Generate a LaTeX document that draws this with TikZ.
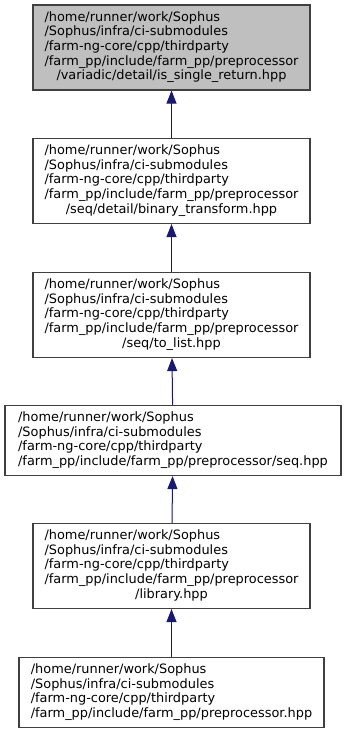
\documentclass[tikz,border=0pt]{standalone}
\usepackage{fontspec}
\usepackage{tikz}
\usetikzlibrary{arrows.meta,positioning}
\newfontfamily\dejavu{DejaVu Sans}
\definecolor{midnightblue}{HTML}{191970}
\definecolor{rootgrey}{HTML}{BFBFBF}
\definecolor{boxline}{HTML}{404040}
% path block: left-aligned lines, last line centred
\newcommand{\incpath}[2]{\begin{tabular}{@{}l@{}}#1\\\multicolumn{1}{@{}c@{}}{#2}\end{tabular}}
\newcommand{\fp}{/farm\_pp}

\begin{document}
\begin{tikzpicture}[x=1pt,y=-1pt,
    filebox/.style={draw=boxline, line width=1.1pt, fill=white, inner sep=0pt,
      minimum width=277pt, minimum height=85pt,
      font=\dejavu\fontsize{12.9}{14.7}\selectfont},
    rootbox/.style={filebox, fill=rootgrey},
    incl/.style={-{Triangle[length=13pt,width=10pt]}, draw=midnightblue, line width=1pt}]
    \useasboundingbox (0,0) rectangle (343,733);

    % included header at the top
    \node[rootbox] (single) at (171.5,47.5) {\incpath{/home/runner/work/Sophus\\/Sophus/infra/ci-submodules\\/farm-ng-core/cpp/thirdparty\\\fp/include\fp/preprocessor}{/variadic/detail/is\_single\_return.hpp}};

    % chain of includers
    \node[filebox] (binary) at (171.5,181) {\incpath{/home/runner/work/Sophus\\/Sophus/infra/ci-submodules\\/farm-ng-core/cpp/thirdparty\\\fp/include\fp/preprocessor}{/seq/detail/binary\_transform.hpp}};
    \node[filebox] (tolist) at (171.5,315) {\incpath{/home/runner/work/Sophus\\/Sophus/infra/ci-submodules\\/farm-ng-core/cpp/thirdparty\\\fp/include\fp/preprocessor}{/seq/to\_list.hpp}};
    \node[filebox, minimum width=336pt, minimum height=70pt] (seq) at (173,440.5) {\begin{tabular}{@{}l@{}}/home/runner/work/Sophus\\/Sophus/infra/ci-submodules\\/farm-ng-core/cpp/thirdparty\\\fp/include\fp/preprocessor/seq.hpp\end{tabular}};
    \node[filebox] (library) at (171.5,566) {\incpath{/home/runner/work/Sophus\\/Sophus/infra/ci-submodules\\/farm-ng-core/cpp/thirdparty\\\fp/include\fp/preprocessor}{/library.hpp}};
    \node[filebox, minimum width=305pt, minimum height=70pt] (prepro) at (171.5,692.5) {\begin{tabular}{@{}l@{}}/home/runner/work/Sophus\\/Sophus/infra/ci-submodules\\/farm-ng-core/cpp/thirdparty\\\fp/include\fp/preprocessor.hpp\end{tabular}};

    % include edges
    \draw[incl] (binary) -- (single);
    \draw[incl] (tolist) -- (binary);
    \draw[incl] (seq) -- (tolist);
    \draw[incl] (library) -- (seq);
    \draw[incl] (prepro) -- (library);
\end{tikzpicture}
\end{document}
